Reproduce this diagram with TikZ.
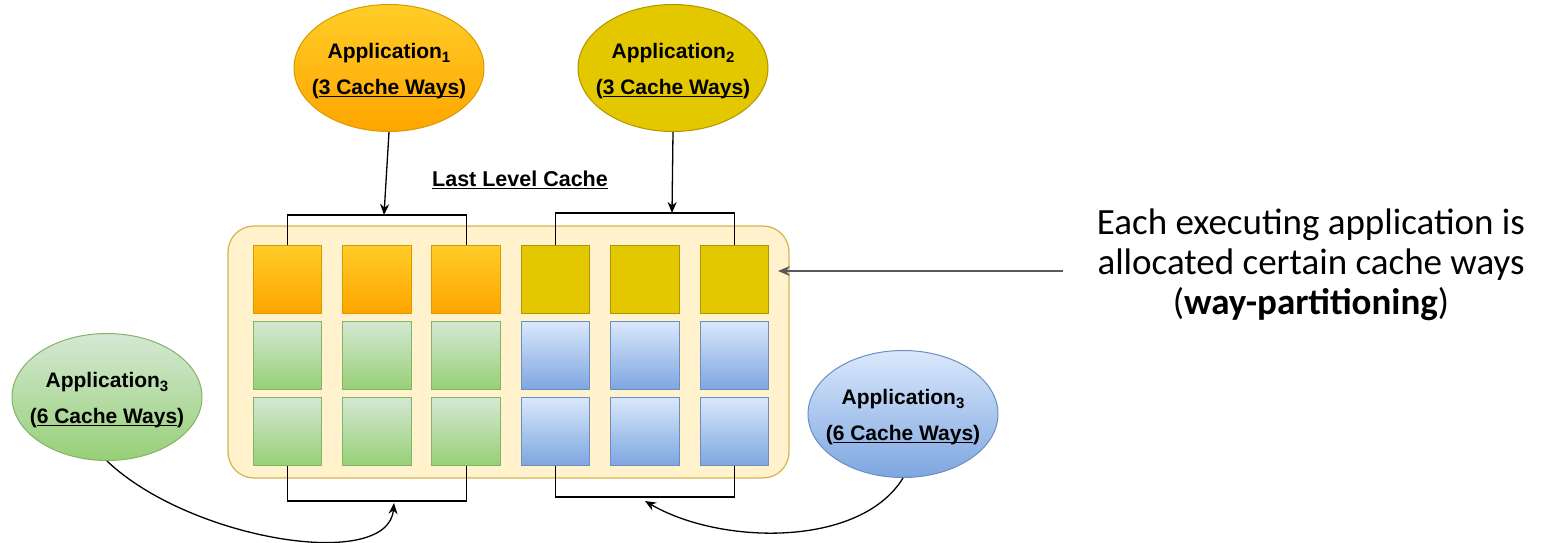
\documentclass[tikz,border=0pt]{standalone}
\usepackage{fontspec}
\setmainfont{Liberation Sans}
\newfontfamily\notefont{Carlito}
\usetikzlibrary{shapes.geometric,arrows.meta}

\definecolor{orTop}{HTML}{FFCD28}
\definecolor{orBot}{HTML}{FFA500}
\definecolor{orLine}{HTML}{D79B00}
\definecolor{yeFill}{HTML}{E3C800}
\definecolor{yeLine}{HTML}{B09500}
\definecolor{grTop}{HTML}{D5E8D4}
\definecolor{grBot}{HTML}{97D077}
\definecolor{grLine}{HTML}{82B366}
\definecolor{blTop}{HTML}{DAE8FC}
\definecolor{blBot}{HTML}{7EA6E0}
\definecolor{blLine}{HTML}{6C8EBF}
\definecolor{llcFill}{HTML}{FFF2CC}
\definecolor{llcLine}{HTML}{D6B656}
\definecolor{noteArrow}{HTML}{595959}

% underline drawn just below the baseline, through descenders
\newcommand\ulpart[1]{{\setbox0\hbox{#1}\rlap{\rule[-2.8pt]{\wd0}{1.3pt}}\box0}}
% lowered index after an application name
\newcommand\appidx[1]{\raisebox{-4.5pt}{\fontsize{15}{15}\selectfont #1}}

\tikzset{
  orangefill/.style={top color=orTop, bottom color=orBot, draw=orLine},
  yellowfill/.style={fill=yeFill, draw=yeLine},
  greenfill/.style={top color=grTop, bottom color=grBot, draw=grLine},
  bluefill/.style={top color=blTop, bottom color=blBot, draw=blLine},
  cell/.style={rectangle, minimum width=68.5pt, minimum height=68.3pt, inner sep=0pt, line width=1pt},
  app/.style={ellipse, minimum width=190pt, minimum height=127pt, inner sep=0pt, line width=1pt},
  apptext/.style={align=center, inner sep=0pt, yshift=-3pt, font=\bfseries\fontsize{21}{36}\selectfont},
  container/.style={rectangle, rounded corners=26pt, fill=llcFill, draw=llcLine, line width=1.3pt,
                    minimum width=561pt, minimum height=252pt, inner sep=0pt},
  link/.style={draw=black, line width=1.3pt},
  arr/.style={link, -{Stealth[length=11pt, width=9pt]}},
  notearr/.style={draw=noteArrow, line width=1.6pt, -{Stealth[length=12pt, width=10pt]}},
}

\begin{document}
\begin{tikzpicture}[x=1pt, y=-1pt]
\useasboundingbox (0,0) rectangle (1543,542);

% last level cache body
\node[container] (llc) at (508.5,352) {};
\node[font=\bfseries\fontsize{21.5}{24}\selectfont] (llcTitle) at (520,180) {\ulpart{Last Level Cache}};

% cache blocks: 3 sets x 6 ways
\foreach \c in {1,2,3}
  \node[cell, orangefill] (c-1-\c) at ({287.4+(\c-1)*89.4}, 279.2) {};
\foreach \c in {4,5,6}
  \node[cell, yellowfill] (c-1-\c) at ({287.4+(\c-1)*89.4}, 279.2) {};
\foreach \r/\y in {2/355.2, 3/431.2} {
  \foreach \c in {1,2,3}
    \node[cell, greenfill] (c-\r-\c) at ({287.4+(\c-1)*89.4}, \y) {};
  \foreach \c in {4,5,6}
    \node[cell, bluefill] (c-\r-\c) at ({287.4+(\c-1)*89.4}, \y) {};
}

% applications
\node[app, orangefill,
  label={[apptext, name=app1-text]center:Application\appidx{1}\\(\ulpart{3 Cache Ways})}] (app1) at (389,68) {};
\node[app, yellowfill,
  label={[apptext, name=app2-text]center:Application\appidx{2}\\(\ulpart{3 Cache Ways})}] (app2) at (673,68) {};
\node[app, greenfill,
  label={[apptext, name=app3g-text]center:Application\appidx{3}\\(\ulpart{6 Cache Ways})}] (app3g) at (107,397) {};
\node[app, bluefill,
  label={[apptext, name=app3b-text]center:Application\appidx{3}\\(\ulpart{6 Cache Ways})}] (app3b) at (903,414) {};

% way brackets
\draw[link] (c-1-1.north) -- ++(0,-29.5) -| (c-1-3.north);
\draw[link] (c-1-4.north) -- ++(0,-31.5) -| (c-1-6.north);
\draw[link] (c-3-1.south) -- ++(0,35) -| (c-3-3.south);
\draw[link] (c-3-4.south) -- ++(0,31) -| (c-3-6.south);

% bracket targets
\coordinate (t1) at (384,215);
\coordinate (t2) at (672,213);
\coordinate (t3) at (394,503);
\coordinate (t4) at (645,501);

\draw[arr] (app1.south) -- (t1);
\draw[arr] (app2.south) -- (t2);
\draw[arr] (app3g.south) .. controls (190,540) and (388,572) .. (t3);
\draw[arr] (app3b.south) .. controls (860,548) and (720,545) .. (t4);

% explanatory note
\node[font=\notefont\fontsize{37}{40}\selectfont, align=center] (note) at (1311,265)
  {Each executing application is\\allocated certain cache ways\\(\textbf{way-partitioning})};
\coordinate (noteTail) at (1063,271);
\coordinate (noteTip) at (778,271);
\draw[notearr] (noteTail) -- (noteTip);
\end{tikzpicture}
\end{document}
